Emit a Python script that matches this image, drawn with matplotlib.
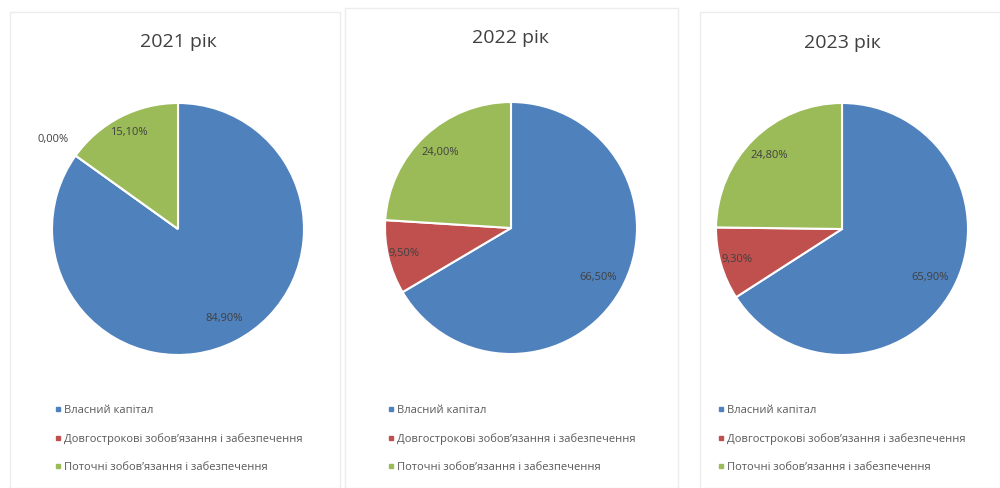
import matplotlib
matplotlib.use('Agg')
import matplotlib.pyplot as plt
from matplotlib.lines import Line2D
from matplotlib.patches import Rectangle
import numpy as np

plt.rcParams['font.family'] = ['Open Sans', 'DejaVu Sans']

years = ['2021 рік', '2022 рік', '2023 рік']
categories = ['Власний капітал', 'Довгострокові зобов’язання і забезпечення',
              'Поточні зобов’язання і забезпечення']
shares = [[84.9, 0.0, 15.1],
          [66.5, 9.5, 24.0],
          [65.9, 9.3, 24.8]]
labels = [['84,90%', '0,00%', '15,10%'],
          ['66,50%', '9,50%', '24,00%'],
          ['65,90%', '9,30%', '24,80%']]
colors = ['#4F81BD', '#C0504D', '#9BBB59']

W, H = 1000, 488
fig = plt.figure(figsize=(W / 100, H / 100), dpi=100)

# panel frames (pixels: left, top, right, bottom)
frames = [(10, 12, 340, 488), (345, 8, 678, 488), (700, 12, 1000, 488)]
for l, t, r, b in frames:
    fig.patches.append(Rectangle((l / W, 1 - b / H), (r - l) / W, (b - t) / H,
                                 transform=fig.transFigure, fill=False,
                                 edgecolor='#ececec', lw=1))

centers = [(178, 229), (511, 228), (842, 229)]
rad = 126
title_y = [42, 38, 43]
legend_x = [54, 387, 717]
label_r = [[0.8, 1.22, 0.86], [0.8, 0.87, 0.82], [0.8, 0.87, 0.82]]

for i in range(3):
    cx, cy = centers[i]
    ax = fig.add_axes([(cx - rad) / W, 1 - (cy + rad) / H, 2 * rad / W, 2 * rad / H])
    ax.pie(shares[i], colors=colors, startangle=90, counterclock=False,
           wedgeprops=dict(edgecolor='white', linewidth=1.5))
    ax.set_xlim(-1, 1)
    ax.set_ylim(-1, 1)
    ax.set_aspect('equal')
    ax.axis('off')
    # data labels at wedge mid angles
    start = 90.0
    for j, v in enumerate(shares[i]):
        ang = np.deg2rad(start - v * 3.6 / 2)
        start -= v * 3.6
        r = label_r[i][j]
        ax.text(r * np.cos(ang), r * np.sin(ang), labels[i][j], ha='center',
                va='center', fontsize=8, color='#404040')
    fig.text(cx / W, 1 - title_y[i] / H, years[i], ha='center', va='center',
             fontsize=14, color='#404040')
    handles = [Line2D([], [], marker='s', ls='', color=c, markersize=3.5) for c in colors]
    fig.legend(handles, categories, loc='upper left', frameon=False,
               bbox_to_anchor=((legend_x[i] - 9) / W, 1 - 395 / H),
               fontsize=8, labelcolor='#595959', handlelength=0.5,
               handletextpad=0.3, labelspacing=1.55)

fig.savefig('out.png', dpi=100, facecolor='white')
